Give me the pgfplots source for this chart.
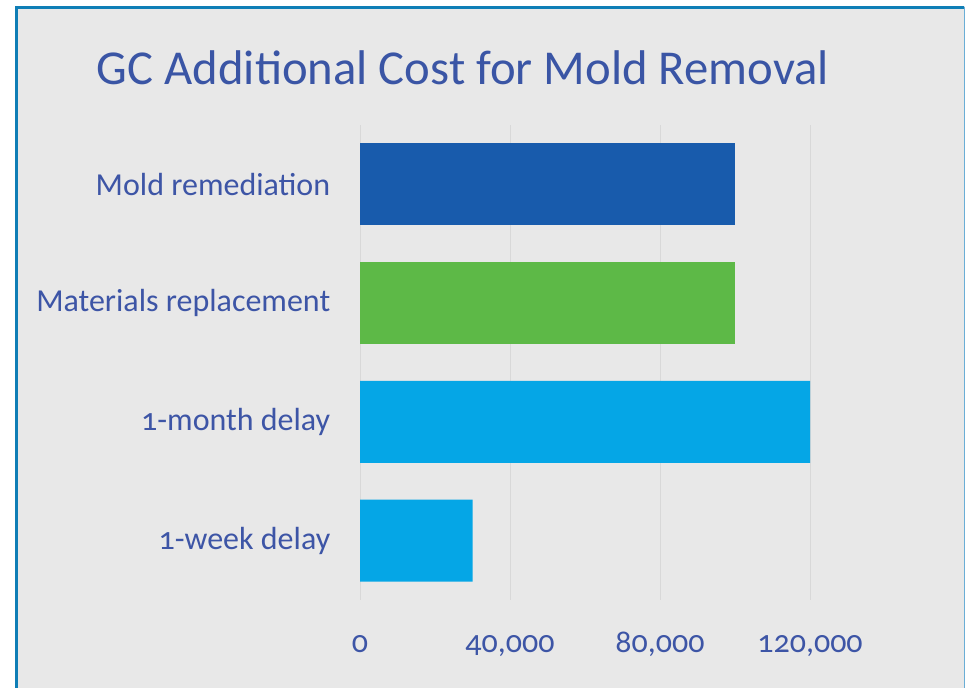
\documentclass[border=0pt]{standalone}
\usepackage{fontspec}
\setmainfont{Carlito}[Numbers=OldStyle]
\usepackage{pgfplots}
\pgfplotsset{compat=1.18}
\definecolor{bgc}{HTML}{E8E8E8}
\definecolor{framec}{HTML}{0F7EB6}
\definecolor{framel}{HTML}{6AAED6}
\definecolor{titlec}{HTML}{3A55A5}
\definecolor{labc}{HTML}{3D55A6}
\definecolor{gridc}{HTML}{D8D8D8}
\definecolor{c1}{HTML}{185BAC}
\definecolor{c2}{HTML}{5DB947}
\definecolor{c3}{HTML}{05A6E6}
\begin{document}
\begin{tikzpicture}
\fill[white] (0pt,0pt) rectangle (966pt,688pt);
\fill[bgc] (15pt,0pt) rectangle (965pt,682pt);
\draw[framec, line width=3pt] (16.5pt,0pt) -- (16.5pt,680.5pt) -- (964pt,680.5pt);
\draw[framel, line width=1pt] (964.5pt,681pt) -- (964.5pt,0pt);
\node[text=titlec, font=\fontsize{48.7}{56}\selectfont, anchor=center] at (463pt,620pt) {GC Additional Cost for Mold Removal};
\begin{axis}[at={(360pt,88pt)}, anchor=south west, scale only axis,
  width=600pt, height=475pt,
  xmin=0, xmax=160000, ymin=-0.5, ymax=3.5,
  xbar, bar width=82pt,
  scaled x ticks=false,
  axis line style={draw=none}, tick style={draw=none},
  xmajorgrids, major grid style={color=gridc, line width=1pt},
  xtick={0,40000,80000,120000},
  xticklabels={0,{40,000},{80,000},{120,000}},
  ytick={0,1,2,3},
  yticklabels={1-week delay,1-month delay,Materials replacement,Mold remediation},
  ticklabel style={text=labc, font=\fontsize{32}{38}\selectfont},
  xticklabel style={yshift=-27pt, text height=22pt, text depth=7pt},
  yticklabel style={xshift=-22pt},
  clip=false]
\addplot[fill=c3, draw=none, bar shift=0pt] coordinates {(30000,0) (120000,1)};
\addplot[fill=c2, draw=none, bar shift=0pt] coordinates {(100000,2)};
\addplot[fill=c1, draw=none, bar shift=0pt] coordinates {(100000,3)};
\end{axis}
\end{tikzpicture}
\end{document}
